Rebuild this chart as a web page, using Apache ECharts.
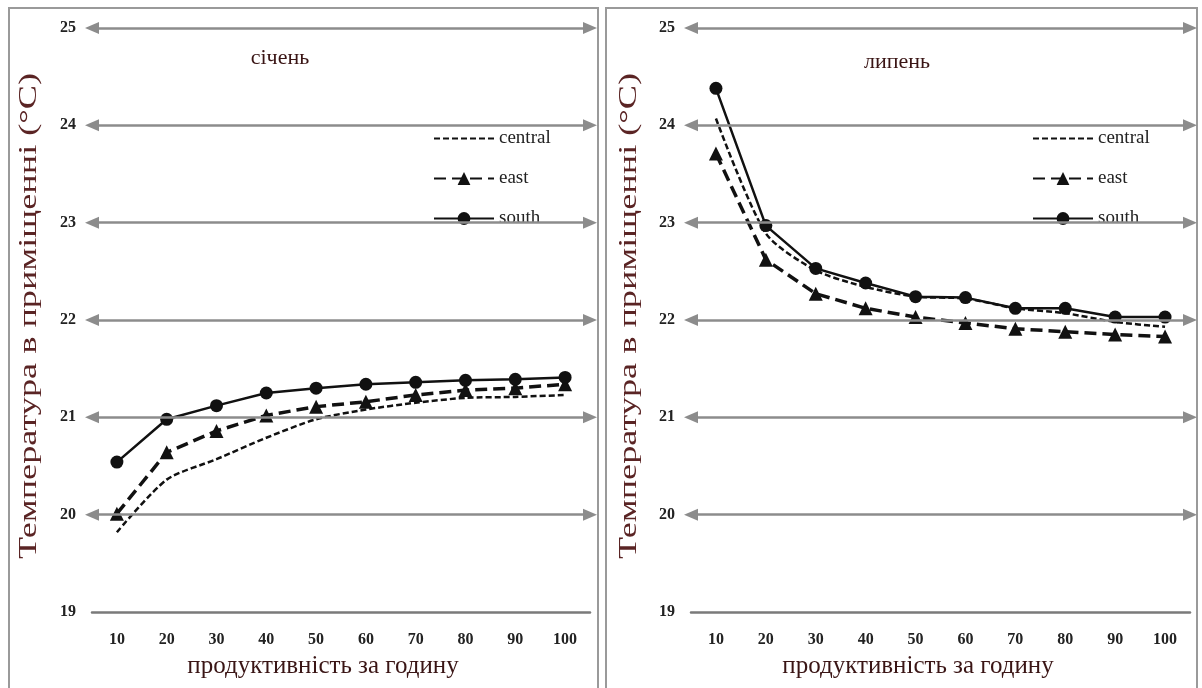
<!DOCTYPE html>
<html>
<head>
<meta charset="utf-8">
<script src="https://cdn.jsdelivr.net/npm/echarts@6/dist/echarts.min.js"></script>
<style>
  html, body { margin: 0; padding: 0; background: #fff; }
  #charts { width: 1202px; height: 688px; }
</style>
</head>
<body>
<div id="charts"></div>
<script>
// дані, зчитані з рисунку
var categories = ['10', '20', '30', '40', '50', '60', '70', '80', '90', '100'];
var janCentral = [19.82, 20.36, 20.57, 20.79, 20.98, 21.08, 21.15, 21.20, 21.21, 21.23];
var janEast    = [20.01, 20.64, 20.86, 21.02, 21.11, 21.16, 21.23, 21.28, 21.30, 21.34];
var janSouth   = [20.54, 20.98, 21.12, 21.25, 21.30, 21.34, 21.36, 21.38, 21.39, 21.41];
var julCentral = [24.07, 22.89, 22.51, 22.34, 22.24, 22.22, 22.12, 22.07, 21.98, 21.93];
var julEast    = [23.71, 22.62, 22.27, 22.12, 22.03, 21.97, 21.91, 21.88, 21.85, 21.83];
var julSouth   = [24.38, 22.97, 22.53, 22.38, 22.24, 22.23, 22.12, 22.12, 22.03, 22.03];
var arrowLevels = [20, 21, 22, 23, 24, 25];
var panelTitles = ['січень', 'липень'];
var yName = 'Температура в приміщенні (°C)';
var xName = 'продуктивність за годину';

var serif = '"Liberation Serif", "DejaVu Serif", serif';
var myChart = echarts.init(document.getElementById('charts'));

function xAxisFor(idx) {
  return {
    type: 'category',
    gridIndex: idx,
    data: categories,
    axisLine: { lineStyle: { color: '#7a7a7a', width: 2.5 } },
    axisTick: { show: false },
    axisLabel: { margin: 20, fontFamily: serif, fontSize: 16, fontWeight: 'bold', color: '#222' }
  };
}
function yAxisFor(idx) {
  return {
    type: 'value',
    gridIndex: idx,
    min: 19, max: 25, interval: 1,
    axisLine: { show: false },
    axisTick: { show: false },
    splitLine: { show: false },
    axisLabel: { margin: 16, fontFamily: serif, fontSize: 16, fontWeight: 'bold', color: '#222' }
  };
}
function seriesFor(idx, central, east, south) {
  return [
    {
      name: 'central', type: 'line', xAxisIndex: idx, yAxisIndex: idx,
      data: central, symbol: 'none', smooth: 0.25,
      itemStyle: { color: '#111' },
      lineStyle: { color: '#111', width: 2.5, type: [6, 3] },
      markLine: {
        silent: true,
        symbol: ['triangle', 'triangle'],
        symbolSize: [12, 14],
        label: { show: false },
        lineStyle: { color: '#8c8c8c', width: 2.5, type: 'solid' },
        data: arrowLevels.map(function (v) { return { yAxis: v }; })
      }
    },
    {
      name: 'east', type: 'line', xAxisIndex: idx, yAxisIndex: idx,
      data: east, symbol: 'triangle', symbolSize: 14,
      itemStyle: { color: '#111' },
      lineStyle: { color: '#111', width: 3.5, type: [12, 6] }
    },
    {
      name: 'south', type: 'line', xAxisIndex: idx, yAxisIndex: idx,
      data: south, symbol: 'circle', symbolSize: 13,
      itemStyle: { color: '#111' },
      lineStyle: { color: '#111', width: 2.5 }
    }
  ];
}
function legendAt(left) {
  return {
    orient: 'vertical', left: left, top: 124,
    itemWidth: 60, itemHeight: 16, itemGap: 21,
    textStyle: { fontFamily: serif, fontSize: 19, color: '#222' },
    data: [
      { name: 'central', itemStyle: { opacity: 0 } },
      'east',
      'south'
    ]
  };
}
function labelText(x, y, text, size, color, rotate, stretch) {
  return {
    type: 'text', x: x, y: y, rotation: rotate || 0, scaleX: stretch || 1,
    style: { text: text, fontFamily: serif, fontSize: size, fill: color, align: 'center', verticalAlign: 'middle' }
  };
}

var option = {
  animation: false,
  backgroundColor: '#fff',
  grid: [
    { left: 92, top: 28, width: 498, height: 584 },
    { left: 691, top: 28, width: 499, height: 584 }
  ],
  xAxis: [xAxisFor(0), xAxisFor(1)],
  yAxis: [yAxisFor(0), yAxisFor(1)],
  legend: [legendAt(428), legendAt(1027)],
  series: seriesFor(0, janCentral, janEast, janSouth).concat(seriesFor(1, julCentral, julEast, julSouth)),
  graphic: [
    { type: 'rect', shape: { x: 9, y: 8, width: 589, height: 690 }, style: { fill: 'none', stroke: '#9a9a9a', lineWidth: 2 } },
    { type: 'rect', shape: { x: 606, y: 8, width: 591, height: 690 }, style: { fill: 'none', stroke: '#9a9a9a', lineWidth: 2 } },
    labelText(280, 58, panelTitles[0], 22, '#3a1515'),
    labelText(897, 62, panelTitles[1], 22, '#3a1515'),
    labelText(29, 316, yName, 25, '#5a2424', Math.PI / 2, 1.45),
    labelText(629, 316, yName, 25, '#5a2424', Math.PI / 2, 1.45),
    labelText(323, 666, xName, 25, '#3a1515'),
    labelText(918, 666, xName, 25, '#3a1515')
  ]
};
myChart.setOption(option);
</script>
</body>
</html>
